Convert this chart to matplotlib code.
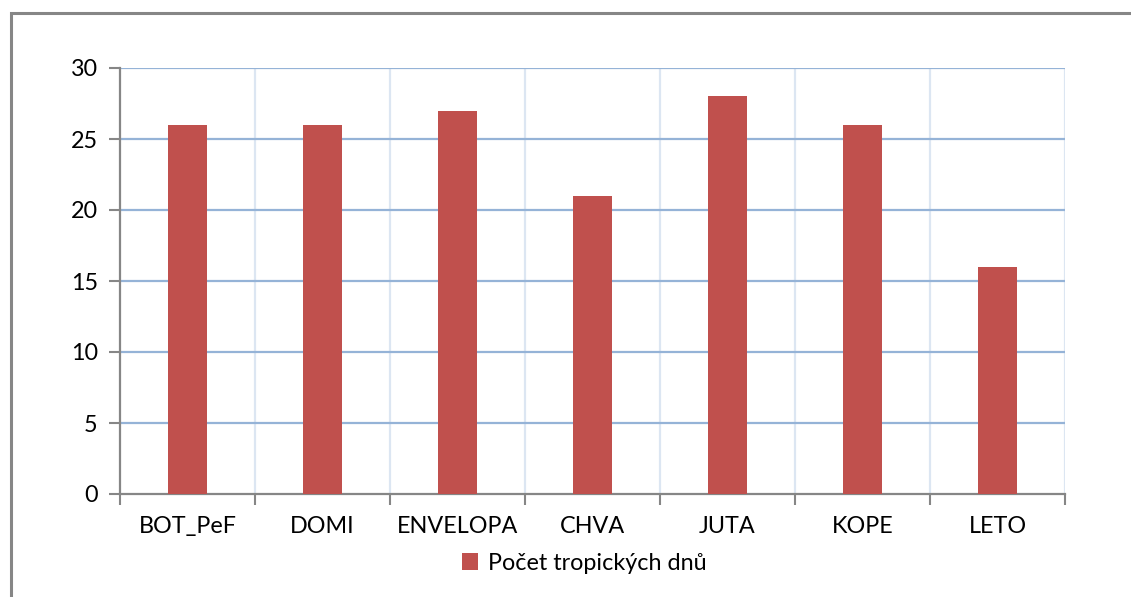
import matplotlib
matplotlib.use("Agg")
import matplotlib.pyplot as plt
from matplotlib.patches import Rectangle
import numpy as np

categories = ["BOT_PeF", "DOMI", "ENVELOPA", "CHVA", "JUTA", "KOPE", "LETO"]
tropical_days = [26, 26, 27, 21, 28, 26, 16]
series_name = "Počet tropických dnů"
y_ticks = [0, 5, 10, 15, 20, 25, 30]

plt.rcParams["font.family"] = ["Lato", "DejaVu Sans"]
FS = 16.8

W, H = 1131, 597
fig = plt.figure(figsize=(W / 100, H / 100), dpi=100)
fig.patch.set_facecolor("white")

# outer chart frame
fig.add_artist(Rectangle((11 / W, -0.1), 1.2, 1 - 13 / H + 0.1, transform=fig.transFigure,
                         fill=False, edgecolor="#868686", linewidth=2.2))

left, right, top, bottom = 120, 1065, 68, 494
ax = fig.add_axes([left / W, 1 - bottom / H, (right - left) / W, (bottom - top) / H])

x = np.arange(len(categories))
ax.bar(x, tropical_days, width=0.29, color="#c0504d", zorder=3, label=series_name)

ax.set_xlim(-0.5, len(categories) - 0.5)
ax.set_ylim(0, 30)
ax.set_yticks(y_ticks)
ax.set_yticklabels([str(v) for v in y_ticks], fontsize=FS)
ax.set_xticks(x)
ax.set_xticklabels(categories, fontsize=FS)
ax.tick_params(axis="x", length=0, pad=16)
ax.tick_params(axis="y", length=8, width=1.5, color="#868686", pad=8)

# category boundary ticks and vertical grid
bounds = np.arange(len(categories) + 1) - 0.5
ax.set_xticks(bounds, minor=True)
ax.tick_params(axis="x", which="minor", length=8, width=1.5, color="#868686")
for b in bounds[1:]:
    ax.axvline(b, color="#dce6f2", linewidth=1.6, zorder=1)
for yv in y_ticks[1:]:
    ax.axhline(yv, color="#95b3d7", linewidth=1.6, zorder=2)

for s in ["top", "right"]:
    ax.spines[s].set_visible(False)
for s in ["left", "bottom"]:
    ax.spines[s].set_color("#868686")
    ax.spines[s].set_linewidth(1.6)

leg = fig.legend(loc="center", bbox_to_anchor=(584 / W, 1 - 563 / H), frameon=False,
                 fontsize=FS, handlelength=0.7, handleheight=0.7, handletextpad=0.4)

fig.savefig("out.png", dpi=100)
